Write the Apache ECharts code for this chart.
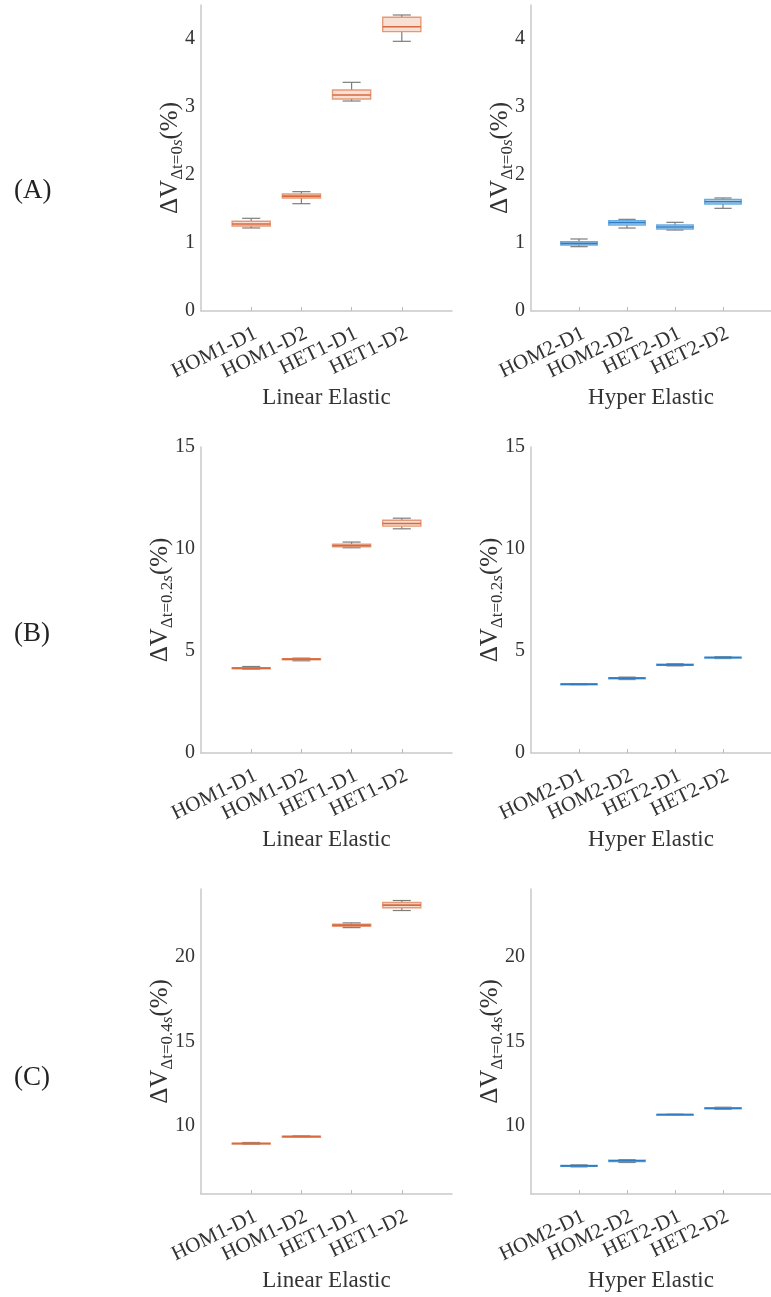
<!DOCTYPE html>
<html>
<head>
<meta charset="utf-8">
<script src="https://cdn.jsdelivr.net/npm/echarts@6/dist/echarts.min.js"></script>
<style>
html,body{margin:0;padding:0;background:#fff;}
#chart{width:771px;height:1297px;}
</style>
</head>
<body>
<div id="chart"></div>
<script>
// Categories
const catsLinear = ['HOM1-D1', 'HOM1-D2', 'HET1-D1', 'HET1-D2'];
const catsHyper = ['HOM2-D1', 'HOM2-D2', 'HET2-D1', 'HET2-D2'];
const groupNames = ['Linear Elastic', 'Hyper Elastic'];
const panelLabels = ['(A)', '(B)', '(C)'];
const timeLabels = ['0', '0.2', '0.4'];

// Box statistics per category: [min, Q1, median, Q3, max]  (ΔV in %)
const linearA = [[1.221, 1.25, 1.279, 1.319, 1.363], [1.578, 1.662, 1.69, 1.72, 1.755], [3.088, 3.118, 3.176, 3.25, 3.363], [3.966, 4.108, 4.181, 4.319, 4.353]];
const hyperA  = [[0.946, 0.97, 0.995, 1.02, 1.059], [1.22, 1.265, 1.299, 1.328, 1.348], [1.191, 1.206, 1.235, 1.265, 1.304], [1.51, 1.574, 1.608, 1.642, 1.662]];
const linearB = [[4.11, 4.14, 4.16, 4.18, 4.24], [4.52, 4.57, 4.60, 4.62, 4.65], [10.06, 10.11, 10.17, 10.24, 10.34], [10.99, 11.12, 11.25, 11.41, 11.51]];
const hyperB  = [[3.35, 3.36, 3.375, 3.39, 3.40], [3.60, 3.64, 3.67, 3.69, 3.72], [4.27, 4.30, 4.32, 4.35, 4.38], [4.63, 4.66, 4.68, 4.70, 4.72]];
const linearC = [[8.93, 8.96, 8.98, 9.00, 9.04], [9.35, 9.37, 9.39, 9.41, 9.43], [21.72, 21.80, 21.87, 21.93, 22.00], [22.73, 22.89, 23.05, 23.20, 23.32]];
const hyperC  = [[7.60, 7.63, 7.66, 7.69, 7.72], [7.86, 7.92, 7.96, 8.00, 8.03], [10.66, 10.68, 10.69, 10.70, 10.71], [11.00, 11.04, 11.06, 11.09, 11.12]];

// Y axis ranges and tick labels per row
const yRanges = [[0, 4.5], [0, 15], [6, 24]];
const yTicks = [[0, 1, 2, 3, 4], [0, 5, 10, 15], [10, 15, 20]];

const FONT = '"Liberation Serif", "DejaVu Serif", serif';
const TXT = '#333333';
const AXIS = '#c9c9c9';

const palette = {
  orange: {edge: '#e3906a', fill: '#f7ddd0', med: '#d8693d'},
  blue: {edge: '#5aa3dc', fill: '#cde3f4', med: '#2f7cc2'}
};

const rows = [
  [linearA, hyperA],
  [linearB, hyperB],
  [linearC, hyperC]
];

const gridPos = [
  {top: 5, height: 306, nameGap: 15},
  {top: 447, height: 306, nameGap: 25},
  {top: 889, height: 305, nameGap: 25}
];
const colLeft = [201, 531];
const colWidth = [251, 250];

const grids = [], xAxes = [], yAxes = [], series = [];
const chart = echarts.init(document.getElementById('chart'), null, {renderer: 'canvas'});

function renderBox(colors) {
  return function (params, api) {
    const x = api.value(0);
    const vMin = api.value(1), q1 = api.value(2), med = api.value(3), q3 = api.value(4), vMax = api.value(5);
    const pMin = api.coord([x, vMin]);
    const pQ1 = api.coord([x, q1]);
    const pMed = api.coord([x, med]);
    const pQ3 = api.coord([x, q3]);
    const pMax = api.coord([x, vMax]);
    const bw = api.size([0.76, 0])[0];
    const cw = api.size([0.36, 0])[0];
    const cx = pMed[0];
    const whisk = {stroke: '#7d7d7d', lineWidth: 1.2};
    return {
      type: 'group',
      children: [
        {type: 'line', shape: {x1: cx, y1: pMax[1], x2: cx, y2: pQ3[1]}, style: whisk},
        {type: 'line', shape: {x1: cx, y1: pQ1[1], x2: cx, y2: pMin[1]}, style: whisk},
        {type: 'line', shape: {x1: cx - cw / 2, y1: pMax[1], x2: cx + cw / 2, y2: pMax[1]}, style: whisk},
        {type: 'line', shape: {x1: cx - cw / 2, y1: pMin[1], x2: cx + cw / 2, y2: pMin[1]}, style: whisk},
        {type: 'rect', shape: {x: cx - bw / 2, y: pQ3[1], width: bw, height: Math.max(pQ1[1] - pQ3[1], 1)},
          style: {fill: colors.fill, stroke: colors.edge, lineWidth: 1.4, opacity: 0.9}},
        {type: 'line', shape: {x1: cx - bw / 2, y1: pMed[1], x2: cx + bw / 2, y2: pMed[1]},
          style: {stroke: colors.med, lineWidth: 1.6}}
      ]
    };
  };
}

let idx = 0;
rows.forEach(function (row, r) {
  row.forEach(function (stats, c) {
    const cats = c === 0 ? catsLinear : catsHyper;
    grids.push({left: colLeft[c], top: gridPos[r].top, width: colWidth[c], height: gridPos[r].height, containLabel: false});
    xAxes.push({
      type: 'value', gridIndex: idx, min: 0, max: 5,
      name: groupNames[c], nameLocation: 'middle', nameGap: 75,
      nameTextStyle: {fontFamily: FONT, fontSize: 23, color: TXT},
      axisLine: {show: true, onZero: false, lineStyle: {color: AXIS, width: 1.5}},
      axisTick: {show: true, inside: true, length: 4, lineStyle: {color: '#bbbbbb'}, customValues: [1, 2, 3, 4]},
      splitLine: {show: false},
      axisLabel: {
        customValues: [1, 2, 3, 4], rotate: 26, margin: 12,
        align: 'right', verticalAlign: 'top',
        fontFamily: FONT, fontSize: 21, color: TXT,
        formatter: function (v) { return cats[Math.round(v) - 1] || ''; }
      }
    });
    yAxes.push({
      type: 'value', gridIndex: idx, min: yRanges[r][0], max: yRanges[r][1],
      name: '{a|ΔV}{s|Δt=' + timeLabels[r] + '}{si|s}{a|(%)}',
      nameLocation: 'middle', nameRotate: 90, nameGap: gridPos[r].nameGap, nameMoveOverlap: false,
      nameTextStyle: {
        fontFamily: FONT, color: TXT,
        rich: {
          a: {fontFamily: FONT, fontSize: 25, color: TXT, lineHeight: 32, verticalAlign: 'middle'},
          s: {fontFamily: FONT, fontSize: 17, color: TXT, lineHeight: 14, verticalAlign: 'bottom'},
          si: {fontFamily: FONT, fontSize: 17, fontStyle: 'italic', color: TXT, lineHeight: 14, verticalAlign: 'bottom'}
        }
      },
      axisLine: {show: true, lineStyle: {color: AXIS, width: 1.5}},
      axisTick: {show: false},
      splitLine: {show: false},
      axisLabel: {customValues: yTicks[r], fontFamily: FONT, fontSize: 20, color: TXT, margin: 6}
    });
    const colors = c === 0 ? palette.orange : palette.blue;
    series.push({
      type: 'custom', xAxisIndex: idx, yAxisIndex: idx,
      renderItem: renderBox(colors),
      encode: {x: 0, y: [1, 2, 3, 4, 5]},
      clip: false,
      data: stats.map(function (s, i) { return [i + 1].concat(s); })
    });
    idx++;
  });
});

const graphics = panelLabels.map(function (t, i) {
  return {
    type: 'text', left: 14, top: [177, 620, 1064][i],
    style: {text: t, fontFamily: FONT, fontSize: 27, fill: '#222222'}
  };
});

chart.setOption({
  animation: false,
  backgroundColor: '#ffffff',
  grid: grids,
  xAxis: xAxes,
  yAxis: yAxes,
  series: series,
  graphic: graphics
});
</script>
</body>
</html>
